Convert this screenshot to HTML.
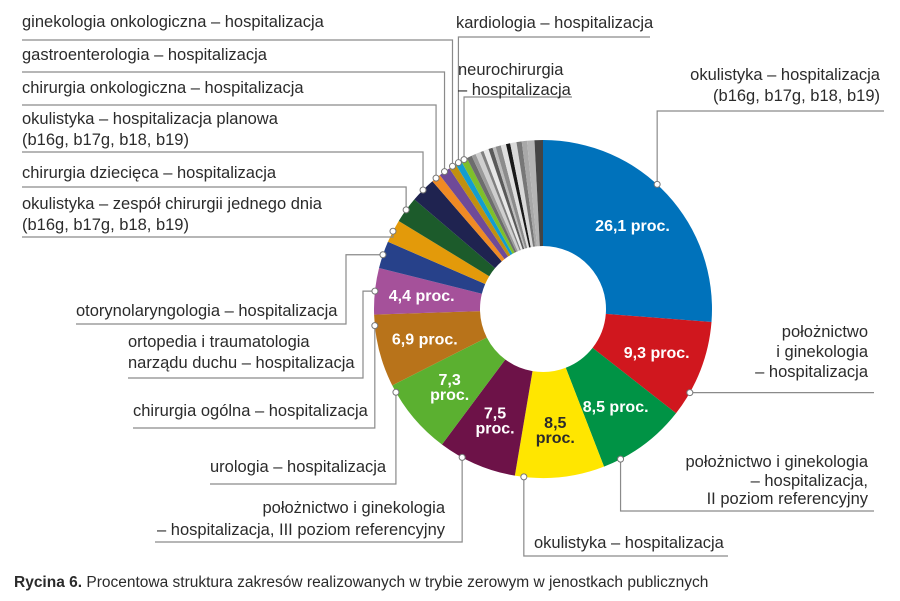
<!DOCTYPE html>
<html><head><meta charset="utf-8">
<style>
html,body{margin:0;padding:0;background:#fff;}
svg{display:block;font-family:"Liberation Sans",sans-serif;}
.lbl{font-size:16.5px;fill:#2b2b2b;}
.pct{font-size:16px;font-weight:bold;fill:#fff;}
</style></head>
<body>
<svg id="chart" width="900" height="601" viewBox="0 0 900 601">
<g id="slices"></g>
<g id="leaders"></g>
<g id="pcts"></g>
<g id="labels"></g>
<text x="14" y="587" font-size="15.5" fill="#2b2b2b"><tspan font-weight="bold">Rycina 6.</tspan> Procentowa struktura zakresów realizowanych w trybie zerowym w jenostkach publicznych</text>
</svg>
<script>
const sliceValues = [26.1, 9.3, 8.5, 8.5, 7.5, 7.3, 6.9, 4.4, 2.6, 2.2, 2.5, 2.4, 0.9, 1.1, 0.7, 0.6, 0.6,
  0.5, 0.4, 0.5, 0.3, 0.5, 0.4, 0.3, 0.5, 0.5, 0.4, 0.6, 0.5, 0.5, 0.7, 0.8];
const sliceColors = ["#0072bb","#d0171e","#009345","#ffe600","#6d1248","#5bb030","#b8731a","#a5519a",
  "#27418a","#e39a0a","#1c5b2b","#1f2350","#f08a24","#6f4a98","#c1900f","#139dcf","#7ebf2a",
  "#6d6d6d","#9a9a9a","#cfcfcf","#808080","#e8e8e8","#5a5a5a","#bdbdbd","#8c8c8c","#e0e0e0","#1a1a1a","#d9d9d9","#777777","#a8a8a8","#b4b4b4","#444444"];
const pctTexts = ["26,1 proc.","9,3 proc.","8,5 proc.","8,5|proc.","7,5|proc.","7,3|proc.","6,9 proc.","4,4 proc."];
const labelTexts = [
 "okulistyka – hospitalizacja|(b16g, b17g, b18, b19)",
 "położnictwo|i ginekologia|– hospitalizacja",
 "położnictwo i ginekologia|– hospitalizacja,|II poziom referencyjny",
 "okulistyka – hospitalizacja",
 "położnictwo i ginekologia|– hospitalizacja, III poziom referencyjny",
 "urologia – hospitalizacja",
 "chirurgia ogólna – hospitalizacja",
 "ortopedia i traumatologia|narządu duchu – hospitalizacja",
 "otorynolaryngologia – hospitalizacja",
 "okulistyka – zespół chirurgii jednego dnia|(b16g, b17g, b18, b19)",
 "chirurgia dziecięca – hospitalizacja",
 "okulistyka – hospitalizacja planowa|(b16g, b17g, b18, b19)",
 "chirurgia onkologiczna – hospitalizacja",
 "gastroenterologia – hospitalizacja",
 "ginekologia onkologiczna – hospitalizacja",
 "kardiologia – hospitalizacja",
 "neurochirurgia|– hospitalizacja"
];
const cx=543, cy=309, R=169, r=63, NS="http://www.w3.org/2000/svg";
const layout = [
 {f:.45,tx:880,anchor:"end",ty:[80,101],yu:111,xEnd:884},
 {f:.75,tx:868,anchor:"end",ty:[337,357,377],yu:null,xEnd:874},
 {f:.8,tx:868,anchor:"end",ty:[467,486,504],yu:511,xEnd:874},
 {f:.9,tx:534,anchor:"start",ty:[548],yu:556,xEnd:728},
 {f:.7,tx:445,anchor:"end",ty:[513,535],yu:542,xEnd:155},
 {f:.9,tx:210,anchor:"start",ty:[472],yu:484,xEnd:210},
 {f:.85,tx:133,anchor:"start",ty:[416],yu:428,xEnd:133},
 {f:.5,tx:128,anchor:"start",ty:[347,368],yu:378,xEnd:128,xv:363},
 {f:.5,tx:76,anchor:"start",ty:[316],yu:324,xEnd:76,xv:346},
 {f:.5,tx:22,anchor:"start",ty:[209,230],yu:237,xEnd:22},
 {f:.5,tx:22,anchor:"start",ty:[178],yu:187,xEnd:22},
 {f:.5,tx:22,anchor:"start",ty:[124,145],yu:152,xEnd:22},
 {f:.5,tx:22,anchor:"start",ty:[93],yu:105,xEnd:22},
 {f:.5,tx:22,anchor:"start",ty:[60],yu:72,xEnd:22},
 {f:.5,tx:22,anchor:"start",ty:[27],yu:40,xEnd:22},
 {f:.5,tx:456,anchor:"start",ty:[28],yu:37,xEnd:650},
 {f:.5,tx:458,anchor:"start",ty:[75,95],yu:97,xEnd:572}
];
function pt(a,rad){const t=a*Math.PI/180;return [cx+rad*Math.sin(t), cy-rad*Math.cos(t)];}
const total = sliceValues.reduce((s,v)=>s+v,0);
const angle = v => v/total*360;
const gS=document.getElementById('slices'), gL=document.getElementById('leaders'),
      gP=document.getElementById('pcts'), gT=document.getElementById('labels');
let acc=0; const starts=[], ends=[];
sliceValues.forEach((v,i)=>{
  const a0=angle(acc), a1=angle(acc+v); acc+=v; starts.push(a0); ends.push(a1);
  const [x0,y0]=pt(a0,R),[x1,y1]=pt(a1,R),[x2,y2]=pt(a1,r),[x3,y3]=pt(a0,r);
  const lg=(a1-a0)>180?1:0;
  const p=document.createElementNS(NS,'path');
  p.setAttribute('d',`M${x0},${y0}A${R},${R} 0 ${lg} 1 ${x1},${y1}L${x2},${y2}A${r},${r} 0 ${lg} 0 ${x3},${y3}Z`);
  p.setAttribute('fill',sliceColors[i%sliceColors.length]);
  
  
  gS.appendChild(p);
});
pctTexts.forEach((t,i)=>{
  const m=(starts[i]+ends[i])/2; const [x,y]=pt(m,(R+r)/2+6);
  const lines=t.split('|');
  const tx=document.createElementNS(NS,'text');
  tx.setAttribute('class','pct'); tx.setAttribute('text-anchor','middle');
  if(i===3) tx.setAttribute('style','fill:#2b2b2b');
  
  
  lines.forEach((l,k)=>{const s=document.createElementNS(NS,'tspan');s.setAttribute('x',x);
    s.setAttribute('y',y+5+(k-(lines.length-1)/2)*15);s.textContent=l;tx.appendChild(s);});
  gP.appendChild(tx);
});
labelTexts.forEach((t,i)=>{
  const L=layout[i]; const a=starts[i]+(ends[i]-starts[i])*L.f; const [dx,dy]=pt(a,R);
  const xv = L.xv!==undefined?L.xv:dx; const yu = L.yu===null?dy:L.yu;
  const pl=document.createElementNS(NS,'polyline');
  pl.setAttribute('points',`${dx},${dy} ${xv},${dy} ${xv},${yu} ${L.xEnd},${yu}`);
  pl.setAttribute('fill','none'); pl.setAttribute('stroke','#8a8a8a'); pl.setAttribute('stroke-width','1.2');
  
  
  gL.appendChild(pl);
  const c=document.createElementNS(NS,'circle');
  c.setAttribute('cx',dx);c.setAttribute('cy',dy);c.setAttribute('r',3);
  c.setAttribute('fill','#fff');c.setAttribute('stroke','#777');c.setAttribute('stroke-width','1');
  
  
  gL.appendChild(c);
  const tx=document.createElementNS(NS,'text');
  tx.setAttribute('class','lbl'); tx.setAttribute('text-anchor',L.anchor);
  
  
  t.split('|').forEach((l,k)=>{const s=document.createElementNS(NS,'tspan');s.setAttribute('x',L.tx);
    s.setAttribute('y',L.ty[k]);s.textContent=l;tx.appendChild(s);});
  gT.appendChild(tx);
});
</script>
</body></html>
